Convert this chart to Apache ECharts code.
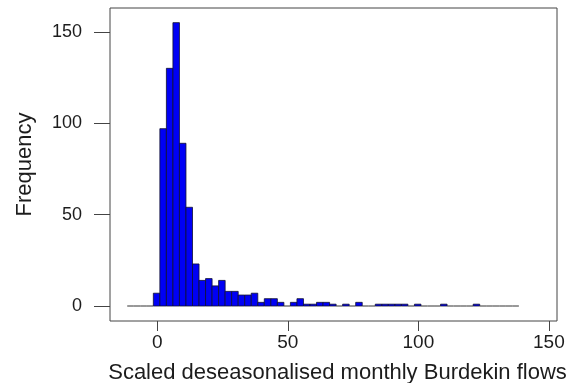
<!DOCTYPE html>
<html>
<head>
<meta charset="utf-8">
<script src="https://cdn.jsdelivr.net/npm/echarts@6/dist/echarts.min.js"></script>
<style>
  html, body { margin: 0; padding: 0; background: #ffffff; }
  #chart { width: 567px; height: 383px; }
</style>
</head>
<body>
<div id="chart"></div>
<script>
// Histogram of scaled deseasonalised monthly Burdekin flows
// Regular breaks: first break and bin width
const firstBreak = -11.5;
const binWidth = 2.5;

// Frequency in each bin (60 bins from -11.5 to 138.5)
const counts = [
  0, 0, 0, 0,
  7, 97, 130, 155, 89, 54, 23, 14, 15, 11,
  14, 8, 8, 6, 6, 7, 2, 4, 4, 2,
  0, 2, 4, 1, 1, 2, 2, 1, 0, 1,
  0, 2, 0, 0, 1, 1, 1, 1, 1, 0,
  1, 0, 0, 0, 1, 0, 0, 0, 0, 1,
  0, 0, 0, 0, 0, 0
];

// Axis tick values
const xTicks = [0, 50, 100, 150];
const yTicks = [0, 50, 100, 150];

const xTitle = 'Scaled deseasonalised monthly Burdekin flows';
const yTitle = 'Frequency';

const bins = counts.map((c, i) => [firstBreak + i * binWidth, firstBreak + (i + 1) * binWidth, c]);

const textColor = '#1c1c1c';
const lineColor = '#444444';
const font = '"Liberation Sans", Arial, sans-serif';

const chart = echarts.init(document.getElementById('chart'), null, { renderer: 'canvas' });

chart.setOption({
  animation: false,
  backgroundColor: '#ffffff',
  grid: {
    left: 110, right: 10, top: 8, bottom: 62,
    outerBoundsMode: 'none',
    containLabel: false,
    show: true, borderColor: lineColor, borderWidth: 1, backgroundColor: 'transparent'
  },
  xAxis: {
    type: 'value',
    min: -18.1, max: 153.1,
    axisLine: { show: false, onZero: false },
    splitLine: { show: false },
    axisTick: { show: true, customValues: xTicks, length: 10, lineStyle: { color: lineColor, width: 1 } },
    axisLabel: { customValues: xTicks, margin: 12, fontSize: 19, color: textColor, fontFamily: font },
    name: xTitle,
    nameLocation: 'middle',
    nameGap: 41,
    nameTextStyle: { fontSize: 22, color: textColor, fontFamily: font, padding: [0, 0, 0, 8] }
  },
  yAxis: {
    type: 'value',
    min: -8.2, max: 163,
    axisLine: { show: false, onZero: false },
    splitLine: { show: false },
    axisTick: { show: true, customValues: yTicks, length: 16, lineStyle: { color: lineColor, width: 1 } },
    axisLabel: { customValues: yTicks, margin: 28, fontSize: 18, color: textColor, fontFamily: font },
    name: yTitle,
    nameLocation: 'middle',
    nameGap: 68,
    nameRotate: 90,
    nameTextStyle: { fontSize: 22, color: textColor, fontFamily: font, padding: [0, 0, 6, 0] }
  },
  series: [{
    type: 'custom',
    data: bins,
    encode: { x: [0, 1], y: 2 },
    renderItem: function (params, api) {
      const x0 = api.value(0), x1 = api.value(1), c = api.value(2);
      const p0 = api.coord([x0, 0]);
      const p1 = api.coord([x1, c]);
      if (c <= 0) {
        return {
          type: 'line',
          shape: { x1: p0[0], y1: p0[1], x2: p1[0], y2: p0[1] },
          style: { stroke: '#333333', lineWidth: 1 }
        };
      }
      return {
        type: 'rect',
        shape: { x: p0[0], y: p1[1], width: p1[0] - p0[0], height: p0[1] - p1[1] },
        style: { fill: '#0000f5', stroke: '#101030', lineWidth: 0.8 }
      };
    }
  }]
});
</script>
</body>
</html>
